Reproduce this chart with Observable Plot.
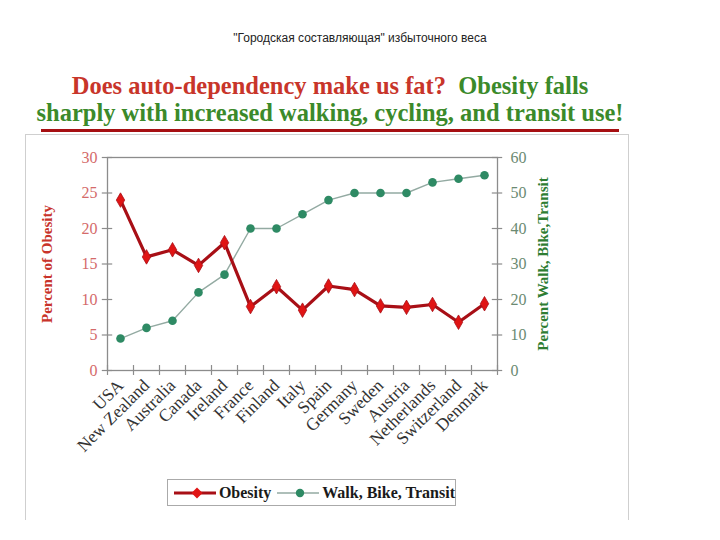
<!DOCTYPE html>
<html><head><meta charset="utf-8">
<script src="https://cdn.jsdelivr.net/npm/d3@7"></script>
<script src="https://cdn.jsdelivr.net/npm/@observablehq/plot@0.6"></script>
<style>
body{margin:0;background:#fff;}
#wrap{position:relative;width:720px;height:540px;overflow:hidden;background:#fff;}
#wrap > svg{position:absolute;left:0;top:0;}
.ov{position:absolute;}
#caption{top:31px;left:0;width:720px;text-align:center;font:12px "Liberation Sans",Arial,sans-serif;color:#222;}
#title{top:72px;left:30px;width:600px;text-align:center;font-family:"Liberation Serif","Times New Roman",serif;font-weight:bold;font-size:24.5px;line-height:27px;white-space:nowrap;}
#underline{top:129px;left:41px;width:578px;height:3px;background:#a60f12;}
#box{top:134px;left:25px;width:602px;height:385px;border:1.5px solid #cfcfcf;border-bottom:none;}
#legend{top:479px;left:167px;width:289px;height:27px;border:1px solid #aaa;display:flex;align-items:center;padding-left:4px;box-sizing:border-box;font-family:"Liberation Serif","Times New Roman",serif;font-weight:bold;font-size:16px;color:#1a1a1a;white-space:nowrap;}
#legend svg{margin-right:3px;}
</style></head><body><div id="wrap"></div>
<script>
const countries = ["USA","New Zealand","Australia","Canada","Ireland","France","Finland","Italy","Spain","Germany","Sweden","Austria","Netherlands","Switzerland","Denmark"];
const obesity = [24, 16, 17, 14.8, 18, 9, 11.8, 8.5, 11.9, 11.4, 9.1, 8.9, 9.3, 6.8, 9.4];
const walkBikeTransit = [9, 12, 14, 22, 27, 40, 40, 44, 48, 50, 50, 50, 53, 54, 55];
const leftTicks = [0, 5, 10, 15, 20, 25, 30];
const rightTicks = [0, 10, 20, 30, 40, 50, 60];
const caption = "\"Городская составляющая\" избыточного веса";
const titleRed = "Does auto-dependency make us fat?";
const titleGreen1 = "Obesity falls";
const titleGreen2 = "sharply with increased walking, cycling, and transit use!";
const yLeftLabel = "Percent of Obesity";
const yRightLabel = "Percent Walk, Bike,Transit";
const seriesNames = ["Obesity", "Walk, Bike, Transit"];

const red = "#e01414", redDark = "#a80f16", green = "#2e8a64", greenLine = "#93aaa2";
const grid = "#8c8c8c";

const rows = countries.map((c, i) => ({country: c, i: i + 0.5, obesity: obesity[i], walk: walkBikeTransit[i]}));
const ratio = 60 / 30; // right axis max / left axis max

const plot = Plot.plot({
  width: 720, height: 540,
  marginLeft: 107, marginRight: 223, marginTop: 157, marginBottom: 170,
  style: {fontFamily: "'Liberation Serif','Times New Roman',serif", background: "transparent", overflow: "visible"},
  x: {type: "linear", domain: [0, countries.length]},
  y: {domain: [0, 30]},
  marks: [
    Plot.frame({stroke: grid, strokeWidth: 1.3}),
    Plot.ruleY(leftTicks, {y: d => d, x1: -0.2, x2: 0.2, stroke: grid, strokeWidth: 1.2}),
    Plot.ruleY(rightTicks, {y: d => d / ratio, x1: countries.length - 0.2, x2: countries.length + 0.2, stroke: grid, strokeWidth: 1.2}),
    Plot.ruleX(d3.range(countries.length + 1), {x: d => d, y1: -0.7, y2: 0.7, stroke: grid, strokeWidth: 1.2}),
    Plot.axisY({anchor: "left", ticks: leftTicks, tickSize: 0, tickPadding: 10, fontSize: 16, color: "#d46a6a", label: null}),
    Plot.axisY({anchor: "right", ticks: rightTicks.map(d => d / ratio), tickFormat: d => Math.round(d * ratio), tickSize: 0, tickPadding: 13, fontSize: 16, color: "#6b8a72", label: null}),
    Plot.axisX({ticks: rows.map(r => r.i), tickFormat: d => countries[Math.floor(d)], tickSize: 0, tickPadding: 12, tickRotate: -45, fontSize: 17.5, color: "#333", label: null}),
    Plot.line(rows, {x: "i", y: d => d.walk / ratio, stroke: greenLine, strokeWidth: 1.4}),
    Plot.dot(rows, {x: "i", y: d => d.walk / ratio, r: 4.3, fill: green}),
    Plot.line(rows, {x: "i", y: "obesity", stroke: redDark, strokeWidth: 3.2}),
    Plot.dot(rows, {x: "i", y: "obesity", symbol: "diamond", r: 4.4, fill: red, stroke: redDark, strokeWidth: 0.8}),
    Plot.text([yLeftLabel], {frameAnchor: "left", textAnchor: "middle", dx: -60, rotate: -90, fill: "#c8332a", fontSize: 15, fontWeight: "bold"}),
    Plot.text([yRightLabel], {frameAnchor: "right", textAnchor: "middle", dx: 46, rotate: -90, fill: "#2e7d32", fontSize: 15, fontWeight: "bold"})
  ]
});

const wrap = document.getElementById("wrap");
wrap.appendChild(plot);

function add(id, html) { const d = document.createElement("div"); d.id = id; d.className = "ov"; d.innerHTML = html || ""; wrap.appendChild(d); return d; }
add("caption").textContent = caption;
add("box");
add("title", `<span style="color:#c8352a">${titleRed}</span>&nbsp; <span style="color:#3b8a2a">${titleGreen1}</span><br><span style="color:#3b8a2a">${titleGreen2}</span>`);
add("underline");
const swRed = `<svg width="50" height="14"><line x1="2" y1="7" x2="48" y2="7" stroke="${redDark}" stroke-width="3"/><path d="M25,1.5 L30.5,7 L25,12.5 L19.5,7Z" fill="${red}"/></svg>`;
const swGreen = `<svg width="50" height="14"><line x1="2" y1="7" x2="48" y2="7" stroke="${greenLine}" stroke-width="1.4"/><circle cx="25" cy="7" r="4.2" fill="${green}"/></svg>`;
add("legend", `${swRed}<span>${seriesNames[0]}</span>&nbsp;${swGreen}<span>${seriesNames[1]}</span>`);
</script>
</body></html>
